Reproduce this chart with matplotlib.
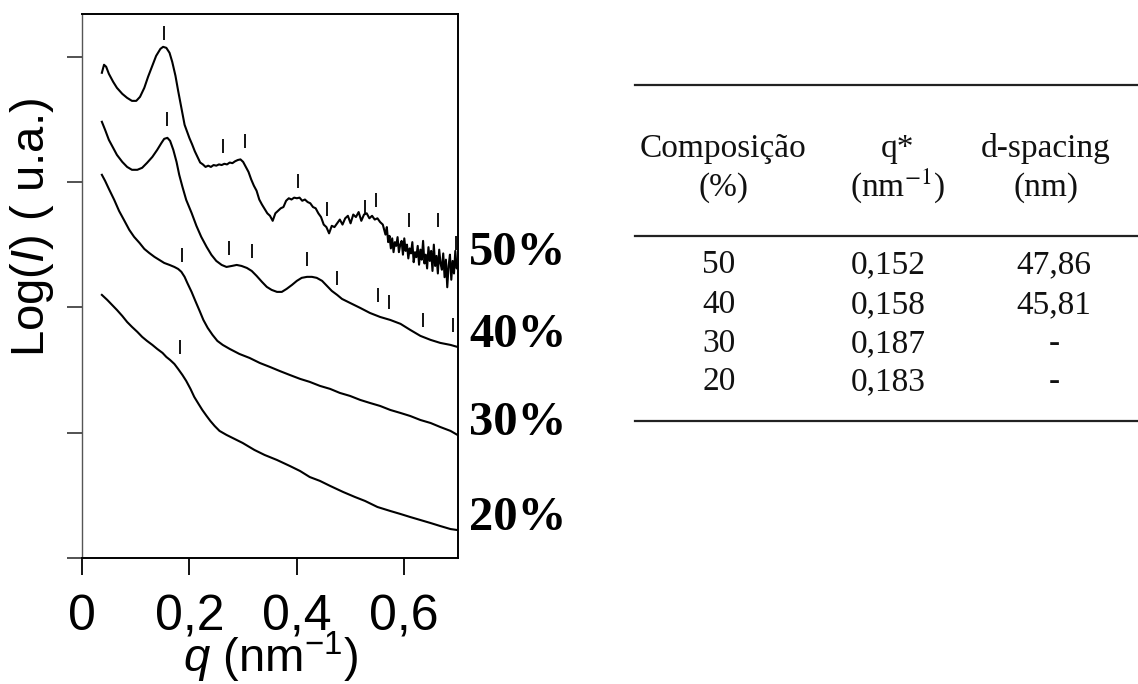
import matplotlib
matplotlib.use("Agg")
import matplotlib.pyplot as plt
import matplotlib.transforms as mtransforms
from matplotlib.lines import Line2D

plt.rcParams['font.family'] = ['Liberation Sans', 'DejaVu Sans']
plt.rcParams['mathtext.fontset'] = 'custom'
plt.rcParams['mathtext.rm'] = 'Liberation Sans'
plt.rcParams['mathtext.it'] = 'Liberation Sans:italic'

# ---------------- SAXS curves (log intensity, vertically shifted) ----------------
q_50 = [0.037, 0.041, 0.045, 0.050, 0.058, 0.065, 0.075, 0.084, 0.093, 0.101,
        0.108, 0.116, 0.123, 0.131, 0.138, 0.146, 0.151, 0.157, 0.163, 0.168,
        0.174, 0.179, 0.185, 0.191,
        0.200, 0.205, 0.210, 0.215, 0.220, 0.225, 0.230, 0.235, 0.240, 0.245,
        0.250, 0.255, 0.260, 0.265, 0.270, 0.275, 0.280, 0.285, 0.290, 0.295,
        0.300, 0.305, 0.310, 0.315, 0.320, 0.325, 0.330, 0.335, 0.340, 0.345,
        0.350, 0.355, 0.360, 0.365, 0.370, 0.375, 0.380, 0.385, 0.390, 0.395,
        0.400, 0.405, 0.410, 0.415, 0.420, 0.425, 0.430, 0.435, 0.440, 0.445,
        0.450, 0.455, 0.460, 0.465, 0.470, 0.475, 0.480, 0.485, 0.490, 0.495,
        0.500, 0.505, 0.510, 0.515, 0.520, 0.525, 0.530, 0.535, 0.540, 0.545,
        0.550, 0.555, 0.560,
        0.5625, 0.565, 0.5675, 0.570, 0.5725, 0.575, 0.5775, 0.580, 0.5825, 0.585,
        0.5875, 0.590, 0.5925, 0.595, 0.5975, 0.600, 0.6025, 0.605, 0.6075, 0.610,
        0.6125, 0.615, 0.6175, 0.620, 0.6225, 0.625, 0.6275, 0.630, 0.6325, 0.635,
        0.6375, 0.640, 0.6425, 0.645, 0.6475, 0.650, 0.6525, 0.655, 0.6575, 0.660,
        0.6625, 0.665, 0.6675, 0.670, 0.6725, 0.675, 0.6775, 0.680, 0.6825, 0.685,
        0.6875, 0.690, 0.6925, 0.695, 0.6975, 0.700]
logI_50 = [3.871, 3.935, 3.919, 3.863, 3.799, 3.751, 3.703, 3.671, 3.647, 3.647,
           3.679, 3.751, 3.839, 3.927, 4.006, 4.062, 4.078, 4.070, 4.030, 3.958,
           3.847, 3.727, 3.591, 3.456,
           3.35, 3.30, 3.245, 3.20, 3.155, 3.14, 3.12, 3.13, 3.12, 3.135,
           3.13, 3.14, 3.135, 3.145, 3.14, 3.155, 3.15, 3.165, 3.175, 3.18,
           3.16, 3.12, 3.08, 3.02, 2.97, 2.93, 2.86, 2.82, 2.785, 2.75,
           2.73, 2.69, 2.75, 2.77, 2.79, 2.80, 2.85, 2.87, 2.86, 2.875,
           2.87, 2.875, 2.85, 2.86, 2.84, 2.83, 2.80, 2.79, 2.75, 2.72,
           2.66, 2.64, 2.59, 2.65, 2.64, 2.67, 2.70, 2.66, 2.71, 2.73,
           2.67, 2.74, 2.72, 2.76, 2.69, 2.74, 2.75, 2.71, 2.73, 2.70,
           2.71, 2.68, 2.66,
           2.62, 2.58, 2.64, 2.52, 2.57, 2.47, 2.55, 2.44, 2.52, 2.49,
           2.56, 2.44, 2.50, 2.53, 2.42, 2.55, 2.45, 2.50, 2.39, 2.47,
           2.43, 2.52, 2.36, 2.44, 2.40, 2.49, 2.34, 2.46, 2.38, 2.53,
           2.35, 2.42, 2.31, 2.48, 2.37, 2.45, 2.29, 2.50, 2.33, 2.41,
           2.27, 2.46, 2.35, 2.30, 2.43, 2.24, 2.38, 2.16, 2.33, 2.42,
           2.22, 2.37, 2.27, 2.45, 2.31, 2.34]

q_40 = [0.037, 0.043, 0.050, 0.058, 0.065, 0.075, 0.084, 0.093, 0.103, 0.112,
        0.121, 0.131, 0.140, 0.148, 0.153, 0.159, 0.164, 0.170, 0.176, 0.181,
        0.187, 0.194, 0.204, 0.213, 0.222, 0.232, 0.241, 0.250, 0.260, 0.269,
        0.279, 0.288, 0.297, 0.307, 0.316, 0.325, 0.335, 0.344, 0.353, 0.363,
        0.372, 0.381, 0.391, 0.400, 0.409, 0.419, 0.428, 0.437, 0.447, 0.456,
        0.465, 0.475, 0.484, 0.499, 0.518, 0.536, 0.555, 0.574, 0.593, 0.611,
        0.630, 0.649, 0.667, 0.686, 0.699]
logI_40 = [3.480, 3.416, 3.336, 3.272, 3.216, 3.160, 3.120, 3.097, 3.097, 3.113,
           3.152, 3.200, 3.256, 3.312, 3.344, 3.352, 3.328, 3.256, 3.160, 3.057,
           2.961, 2.857, 2.753, 2.650, 2.562, 2.482, 2.418, 2.370, 2.338, 2.322,
           2.330, 2.338, 2.330, 2.314, 2.290, 2.251, 2.203, 2.163, 2.139, 2.123,
           2.123, 2.147, 2.179, 2.211, 2.235, 2.243, 2.243, 2.235, 2.211, 2.171,
           2.131, 2.099, 2.067, 2.035, 1.995, 1.955, 1.923, 1.899, 1.868, 1.820,
           1.772, 1.740, 1.716, 1.700, 1.684]

q_30 = [0.037, 0.043, 0.050, 0.060, 0.069, 0.079, 0.088, 0.097, 0.107, 0.116,
        0.125, 0.135, 0.144, 0.153, 0.163, 0.172, 0.179, 0.185, 0.191, 0.196,
        0.204, 0.211, 0.219, 0.226, 0.234, 0.243, 0.252, 0.262, 0.275, 0.293,
        0.312, 0.331, 0.350, 0.368, 0.387, 0.406, 0.424, 0.443, 0.462, 0.480,
        0.499, 0.518, 0.536, 0.555, 0.574, 0.593, 0.611, 0.630, 0.649, 0.667,
        0.686, 0.699]
logI_30 = [3.057, 3.009, 2.945, 2.857, 2.769, 2.690, 2.618, 2.562, 2.514, 2.466,
           2.434, 2.402, 2.378, 2.354, 2.338, 2.322, 2.306, 2.283, 2.243, 2.195,
           2.123, 2.051, 1.971, 1.899, 1.836, 1.780, 1.732, 1.700, 1.668, 1.628,
           1.596, 1.556, 1.524, 1.492, 1.460, 1.429, 1.405, 1.373, 1.349, 1.317,
           1.293, 1.261, 1.237, 1.213, 1.181, 1.157, 1.133, 1.101, 1.077, 1.045,
           1.014, 0.982]

q_20 = [0.037, 0.047, 0.056, 0.065, 0.075, 0.084, 0.093, 0.103, 0.112, 0.121,
        0.131, 0.140, 0.150, 0.157, 0.164, 0.172, 0.179, 0.187, 0.194, 0.202,
        0.209, 0.217, 0.224, 0.232, 0.239, 0.247, 0.256, 0.269, 0.284, 0.299,
        0.321, 0.340, 0.363, 0.387, 0.406, 0.424, 0.443, 0.462, 0.486, 0.508,
        0.527, 0.550, 0.574, 0.593, 0.611, 0.630, 0.649, 0.667, 0.686, 0.699]
logI_20 = [2.099, 2.059, 2.019, 1.979, 1.931, 1.883, 1.844, 1.804, 1.764, 1.732,
           1.700, 1.668, 1.636, 1.604, 1.580, 1.548, 1.508, 1.460, 1.413, 1.349,
           1.285, 1.229, 1.181, 1.133, 1.093, 1.053, 1.014, 0.982, 0.950, 0.918,
           0.862, 0.822, 0.782, 0.734, 0.694, 0.646, 0.615, 0.575, 0.527, 0.487,
           0.455, 0.407, 0.375, 0.351, 0.327, 0.303, 0.279, 0.255, 0.231, 0.223]

# expected reflection positions marked above each curve
peaks_50_q = [0.152, 0.263, 0.304, 0.402, 0.456, 0.527, 0.548, 0.608, 0.663, 0.697]
peaks_50_y = [4.19, 3.29, 3.33, 3.01, 2.785, 2.80, 2.855, 2.70, 2.70, 2.51]
peaks_40_q = [0.158, 0.274, 0.316, 0.418, 0.474, 0.551, 0.572, 0.635, 0.691]
peaks_40_y = [3.50, 2.47, 2.45, 2.385, 2.235, 2.10, 2.045, 1.90, 1.86]
peaks_30_q = [0.187]
peaks_30_y = [2.42]
peaks_20_q = [0.183]
peaks_20_y = [1.68]

curve_labels = ["50%", "40%", "30%", "20%"]
x_ticks = [0, 0.2, 0.4, 0.6]
x_ticklabels = ["0", "0,2", "0,4", "0,6"]
y_ticks = [0, 1, 2, 3, 4]

# ---------------- table values ----------------
compositions = ["50", "40", "30", "20"]
q_star = [0.152, 0.158, 0.187, 0.183]
d_spacing = [47.86, 45.81, None, None]

W, H = 1138, 684
fig = plt.figure(figsize=(W / 100, H / 100), dpi=100)
fig.patch.set_facecolor('white')

ax = fig.add_axes([82 / W, 1 - 558 / H, 376 / W, 544 / H])

curves = [(q_50, logI_50, peaks_50_q, peaks_50_y),
          (q_40, logI_40, peaks_40_q, peaks_40_y),
          (q_30, logI_30, peaks_30_q, peaks_30_y),
          (q_20, logI_20, peaks_20_q, peaks_20_y)]

lab_tr = mtransforms.blended_transform_factory(ax.transAxes, ax.transData)
for (qq, yy, pq, py), lab in zip(curves, curve_labels):
    ax.plot(qq, yy, color='black', lw=1.5, solid_joinstyle='round')
    ax.plot(pq, py, linestyle='none', marker='|', markersize=10,
            markeredgewidth=1.3, color='black', clip_on=False)
    ax.text(1.03, yy[-1], lab, transform=lab_tr, ha='left', va='baseline',
            fontsize=35, fontweight='bold', family='Liberation Serif')

ax.set_xlim(0, 0.70)
ax.set_ylim(0, 4.34)
ax.set_xticks(x_ticks)
ax.set_xticklabels(x_ticklabels)
ax.set_yticks(y_ticks)
ax.set_yticklabels([])
ax.tick_params(axis='x', direction='out', length=12, width=1.3, pad=14,
               labelsize=36)
ax.tick_params(axis='y', direction='out', length=11, width=1.3, color='#444')
for s in ['top', 'right', 'bottom']:
    ax.spines[s].set_linewidth(1.4)
ax.spines['left'].set_linewidth(1.0)
ax.spines['left'].set_color('#555')

ax.set_xlabel("$q$ (nm$^{-1}$)", fontsize=34)
ax.xaxis.label.set_va('baseline')
ax.xaxis.set_label_coords(0.5, -0.21)
ax.set_ylabel("Log($I$) ( u.a.)", fontsize=34)
ax.yaxis.label.set_va('center')
ax.yaxis.set_label_coords(-0.133, 0.608)

# ---------------- table ----------------
def fx(px):
    return px / W

def fy(py):
    return 1 - py / H

for py in (85, 236, 421):
    fig.add_artist(Line2D([fx(635), 1.0], [fy(py), fy(py)], color='#222', lw=1.6))

serif = dict(family='Liberation Serif', fontsize=24, color='#111', ha='center',
             va='baseline', math_fontfamily='stix')
header_x = [723, 898, 1046]
fig.text(fx(header_x[0]), fy(157), "Composição", **serif)
fig.text(fx(header_x[0]), fy(196), "(%)", **serif)
fig.text(fx(header_x[1]), fy(157), "q*", **serif)
fig.text(fx(header_x[1]), fy(196), "(nm$^{-1}$)", **serif)
fig.text(fx(header_x[2]), fy(157), "d-spacing", **serif)
fig.text(fx(header_x[2]), fy(196), "(nm)", **serif)

body_x = [719, 888, 1054]
row_y = [273, 313, 352, 390]
for comp, qs, d, ry in zip(compositions, q_star, d_spacing, row_y):
    fig.text(fx(body_x[0]), fy(ry), comp, **serif)
    fig.text(fx(body_x[1]), fy(ry), f"{qs:.3f}".replace('.', ','), **serif)
    dtxt = "-" if d is None else f"{d:.2f}".replace('.', ',')
    fig.text(fx(body_x[2]), fy(ry), dtxt, **serif)

fig.savefig("out.png", dpi=100, facecolor='white')
